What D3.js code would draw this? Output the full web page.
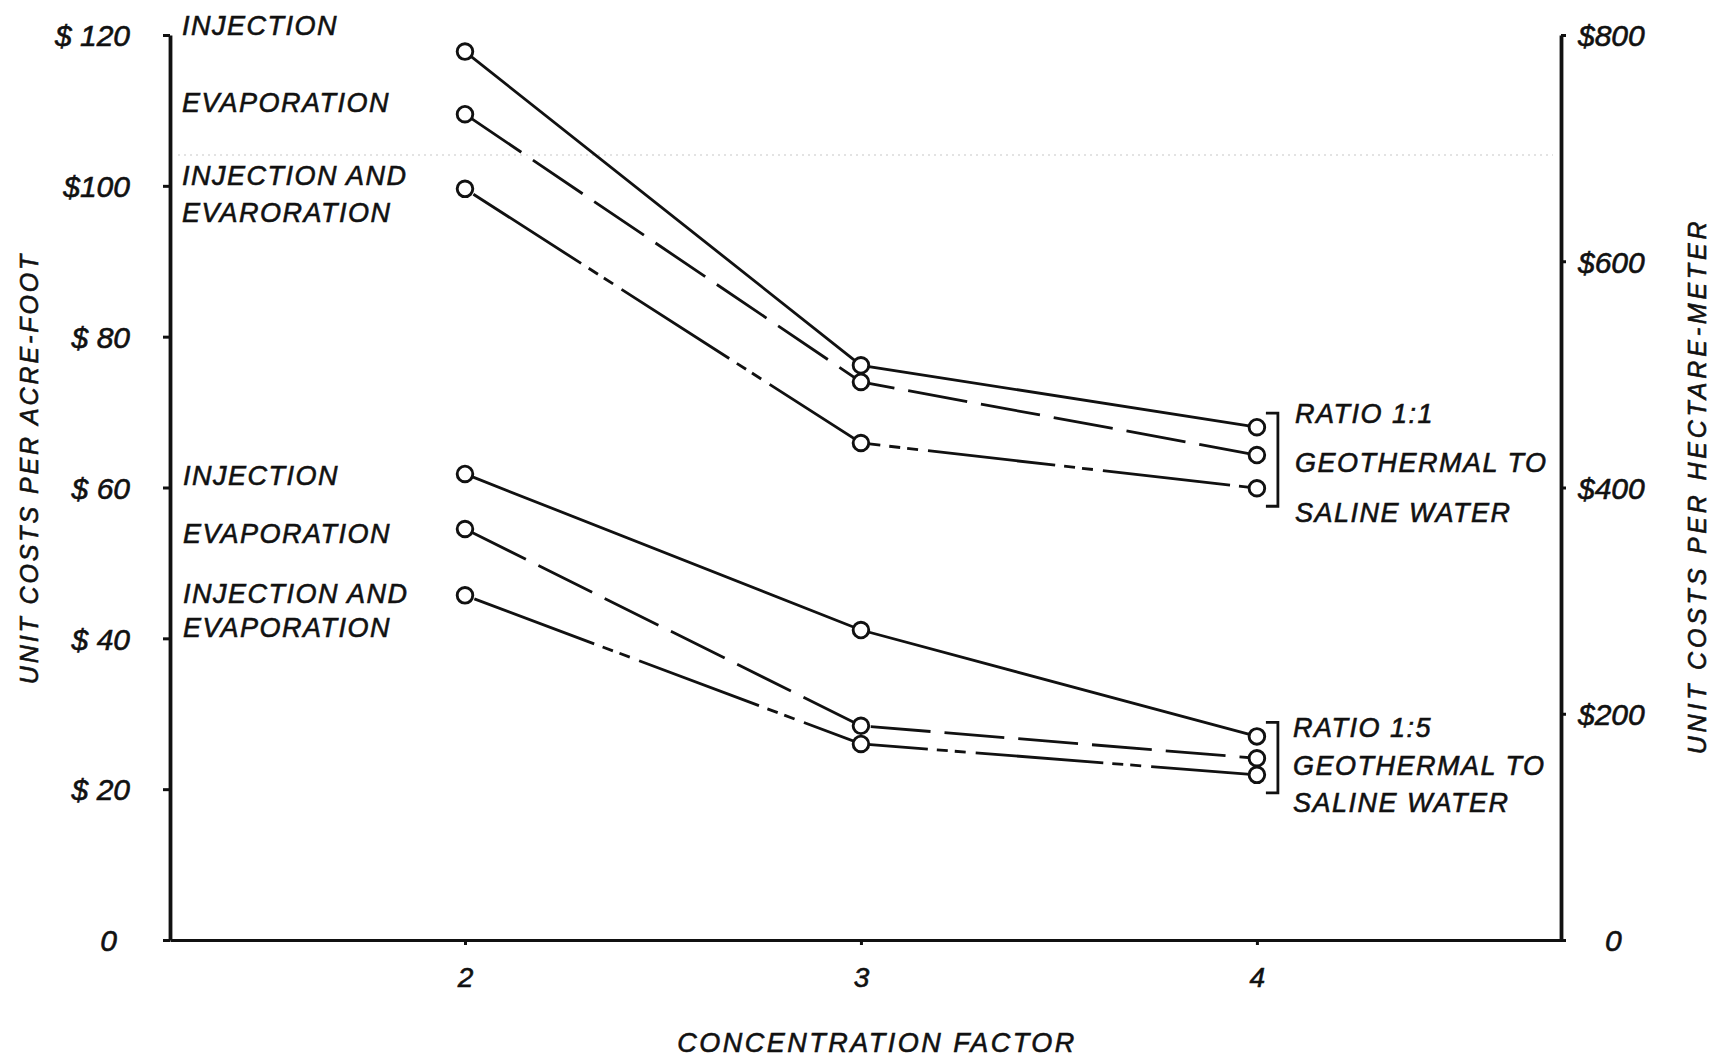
<!DOCTYPE html>
<html>
<head>
<meta charset="utf-8">
<script src="https://cdn.jsdelivr.net/npm/d3@7"></script>
<style>
  html, body { margin: 0; padding: 0; background: #fff; }
  svg { display: block; }
  text {
    font-family: "Liberation Sans", Arial, sans-serif; font-style: italic;
    fill: #111; stroke: #111; stroke-width: 0.6px;
  }
</style>
</head>
<body>
<svg id="chart" width="1713" height="1059"></svg>
<script>
// Concentration factor (x) and unit costs in $ per acre-foot (left axis)
const factors = [2, 3, 4];
const ratio11Injection   = [117.8, 76.2, 68.0];
const ratio11Evaporation = [109.5, 74.0, 64.3];
const ratio11Both        = [99.6, 65.9, 59.9];
const ratio15Injection   = [61.8, 41.1, 27.0];
const ratio15Evaporation = [54.5, 28.4, 24.1];
const ratio15Both        = [45.7, 26.0, 21.9];

const xTicks = [2, 3, 4];
const leftTicks = [0, 20, 40, 60, 80, 100, 120];
const leftTickLabels = ["0", "$ 20", "$ 40", "$ 60", "$ 80", "$100", "$ 120"];
const rightTicks = [0, 200, 400, 600, 800];
const rightTickLabels = ["0", "$200", "$400", "$600", "$800"];

const groupLabels11 = ["RATIO  1:1", "GEOTHERMAL  TO", "SALINE  WATER"];
const groupLabels15 = ["RATIO  1:5", "GEOTHERMAL  TO", "SALINE  WATER"];

const svg = d3.select("#chart");
const ink = "#111";

// Plot frame
const plotLeft = 170, plotRight = 1561, plotTop = 35, plotBottom = 940;
const x = d3.scaleLinear().domain([1.255, 4.768]).range([plotLeft, plotRight]);
const yL = d3.scaleLinear().domain([0, 120]).range([plotBottom, plotTop]);
const yR = d3.scaleLinear().domain([0, 800]).range([plotBottom, plotTop]);

// Faint fold line across the sheet
svg.append("line")
  .attr("x1", plotLeft + 8).attr("x2", plotRight - 8)
  .attr("y1", 155).attr("y2", 155)
  .attr("stroke", "#c8c8c8").attr("stroke-width", 1.2)
  .attr("stroke-dasharray", "2,4");

// Axes
function styleAxis(g, width) {
  g.select(".domain").attr("stroke", ink).attr("stroke-width", width);
  g.selectAll(".tick line").attr("stroke", ink).attr("stroke-width", 3);
  g.selectAll(".tick text").attr("fill", ink)
    .style("font-family", '"Liberation Sans", Arial, sans-serif')
    .style("font-style", "italic");
}

const gLeft = svg.append("g").attr("transform", `translate(${plotLeft},0)`)
  .call(d3.axisLeft(yL).tickValues(leftTicks)
    .tickFormat((d, i) => leftTickLabels[i]).tickSize(7).tickSizeOuter(0).tickPadding(33));
styleAxis(gLeft, 3.8);
gLeft.selectAll(".tick text").attr("font-size", 30).attr("dy", "0.36em");
gLeft.selectAll(".tick text").filter(d => d === 0).attr("dx", -13);

const gRight = svg.append("g").attr("transform", `translate(${plotRight},0)`)
  .call(d3.axisRight(yR).tickValues(rightTicks)
    .tickFormat((d, i) => rightTickLabels[i]).tickSize(5).tickSizeOuter(0).tickPadding(12));
styleAxis(gRight, 3.8);
gRight.selectAll(".tick text").attr("font-size", 30).attr("dy", "0.36em");
gRight.selectAll(".tick text").filter(d => d === 0).attr("dx", 27);

const gBottom = svg.append("g").attr("transform", `translate(0,${plotBottom})`)
  .call(d3.axisBottom(x).tickValues(xTicks).tickFormat(d3.format("d"))
    .tickSize(5).tickSizeOuter(0).tickPadding(22));
styleAxis(gBottom, 3.2);
gBottom.selectAll(".tick text").attr("font-size", 28);

// Axis titles
svg.append("text")
  .attr("transform", `translate(38,468) rotate(-90)`)
  .attr("text-anchor", "middle").attr("font-size", 25).attr("letter-spacing", 2.9)
  .text("UNIT COSTS PER ACRE-FOOT");
svg.append("text")
  .attr("transform", `translate(1706,486) rotate(-90)`)
  .attr("text-anchor", "middle").attr("font-size", 25).attr("letter-spacing", 3.8)
  .text("UNIT COSTS PER HECTARE-METER");
svg.append("text")
  .attr("x", 877).attr("y", 1052)
  .attr("text-anchor", "middle").attr("font-size", 27).attr("letter-spacing", 2.5)
  .text("CONCENTRATION FACTOR");

// Series
const dashFor = {
  injection: null,
  evaporation: "60,14",
  both: "128,9,11,7,11,10"
};
const series = [
  { values: ratio11Injection, kind: "injection" },
  { values: ratio11Evaporation, kind: "evaporation" },
  { values: ratio11Both, kind: "both" },
  { values: ratio15Injection, kind: "injection" },
  { values: ratio15Evaporation, kind: "evaporation" },
  { values: ratio15Both, kind: "both" }
];

const line = d3.line().x(d => x(d.f)).y(d => yL(d.v));
series.forEach(s => {
  const pts = factors.map((f, i) => ({ f, v: s.values[i] }));
  svg.append("path")
    .datum(pts)
    .attr("d", line)
    .attr("fill", "none")
    .attr("stroke", ink)
    .attr("stroke-width", 2.8)
    .attr("stroke-dasharray", dashFor[s.kind])
    .attr("stroke-dashoffset", s.kind === "both" ? -10 : -8);
});
series.forEach(s => {
  svg.append("g").selectAll("circle")
    .data(factors.map((f, i) => ({ f, v: s.values[i] })))
    .join("circle")
    .attr("cx", d => x(d.f)).attr("cy", d => yL(d.v))
    .attr("r", 7.8)
    .attr("fill", "#fff").attr("stroke", ink).attr("stroke-width", 2.9);
});

// Brackets grouping the ratio series at the last concentration factor
function bracket(groupSeries) {
  const last = groupSeries.map(v => yL(v[v.length - 1]));
  const y0 = d3.min(last) - 14, y1 = d3.max(last) + 18;
  const bx = x(4);
  svg.append("path")
    .attr("d", `M${bx + 9},${y0} H${bx + 21} V${y1} H${bx + 9}`)
    .attr("fill", "none").attr("stroke", ink).attr("stroke-width", 2.8);
}
bracket([ratio11Injection, ratio11Evaporation, ratio11Both]);
bracket([ratio15Injection, ratio15Evaporation, ratio15Both]);

// Annotation text
const labelStyle = t => t.attr("font-size", 27).attr("letter-spacing", 1.5);
function label(txt, lx, ly) {
  svg.append("text").attr("x", lx).attr("y", ly).text(txt).call(labelStyle);
}
label("INJECTION", 182, 35);
label("EVAPORATION", 182, 112);
label("INJECTION  AND", 182, 185);
label("EVARORATION", 182, 222);
label("INJECTION", 183, 485);
label("EVAPORATION", 183, 543);
label("INJECTION  AND", 183, 603);
label("EVAPORATION", 183, 637);

groupLabels11.forEach((t, i) => label(t, 1295, [423, 472, 522][i]));
groupLabels15.forEach((t, i) => label(t, 1293, [737, 775, 812][i]));
</script>
</body>
</html>
